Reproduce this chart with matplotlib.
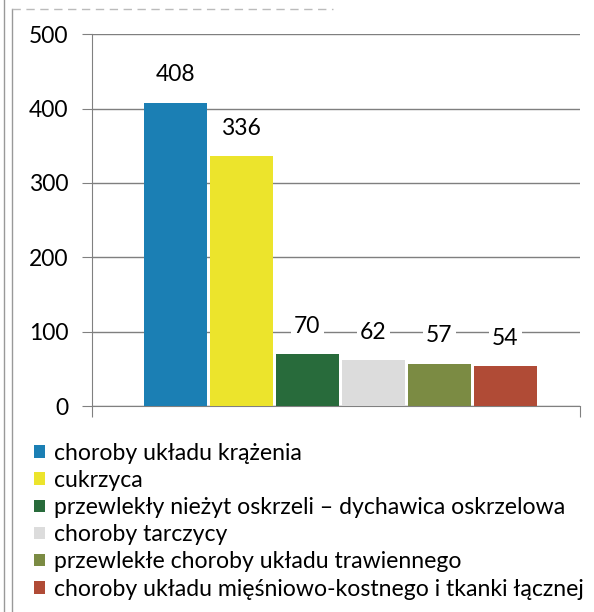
import numpy as np
import matplotlib
matplotlib.use('Agg')
import matplotlib.pyplot as plt
from matplotlib.lines import Line2D

plt.rcParams['font.family'] = ['Lato', 'DejaVu Sans']

# ===========================================================
#                         Data
# ===========================================================
labels = ['choroby układu krążenia', 'cukrzyca',
          'przewlekły nieżyt oskrzeli – dychawica oskrzelowa',
          'choroby tarczycy', 'przewlekłe choroby układu trawiennego',
          'choroby układu mięśniowo-kostnego i tkanki łącznej']
values = [408, 336, 70, 62, 57, 54]
colors = ['#1b7fb4', '#ece42c', '#286b3b', '#dcdcdc', '#7b8b43', '#b04b36']
yticks = [0, 100, 200, 300, 400, 500]

fig = plt.figure(figsize=(5.94, 6.12), dpi=100)
ax = fig.add_axes([0.155, 0.3366, 0.821, 0.6075])

x = np.arange(len(values))
bars = ax.bar(x, values, width=0.95, color=colors, zorder=3)

for xi, v in zip(x, values):  # value labels
    ax.annotate(str(v), (xi, v), xytext=(0, 20), textcoords='offset points',
                ha='center', va='center', fontsize=16.5, zorder=4,
                bbox=dict(boxstyle='square,pad=0.15', fc='white', ec='none'))

ax.set_xlim(-1.265, 6.13)
ax.set_ylim(0, 500)
ax.set_yticks(yticks)
ax.set_yticklabels([str(t) for t in yticks], fontsize=16.5)
ax.set_xticks([-1.265, 6.13])
ax.set_xticklabels(['', ''])
ax.tick_params(axis='y', length=7, color='#808080', pad=10)
ax.tick_params(axis='x', length=8, color='#808080', direction='out')
ax.yaxis.grid(True, color='#7f7f7f', linewidth=1.0, zorder=0)
for s in ['top', 'right']:
    ax.spines[s].set_visible(False)
for s in ['left', 'bottom']:
    ax.spines[s].set_color('#808080')

# legend below the plot
handles = [plt.Rectangle((0, 0), 1, 1, fc=c) for c in colors]
leg = fig.legend(handles, labels, loc='upper left',
                 bbox_to_anchor=(0.042, 0.292), frameon=False,
                 fontsize=16.6, handlelength=0.45, handleheight=0.45,
                 handletextpad=0.42, labelspacing=0.27, borderaxespad=0)

# scan frame remnants
fig.add_artist(Line2D([0.007, 0.007], [0, 1], color='#999999', lw=1.0))
fig.add_artist(Line2D([0.021, 0.021], [0, 0.985], color='#999999', lw=1.0))
fig.add_artist(Line2D([0.021, 0.56], [0.985, 0.985], color='#bbbbbb',
                      lw=1.0, ls=(0, (6, 4))))

fig.savefig('out.png', dpi=100)
